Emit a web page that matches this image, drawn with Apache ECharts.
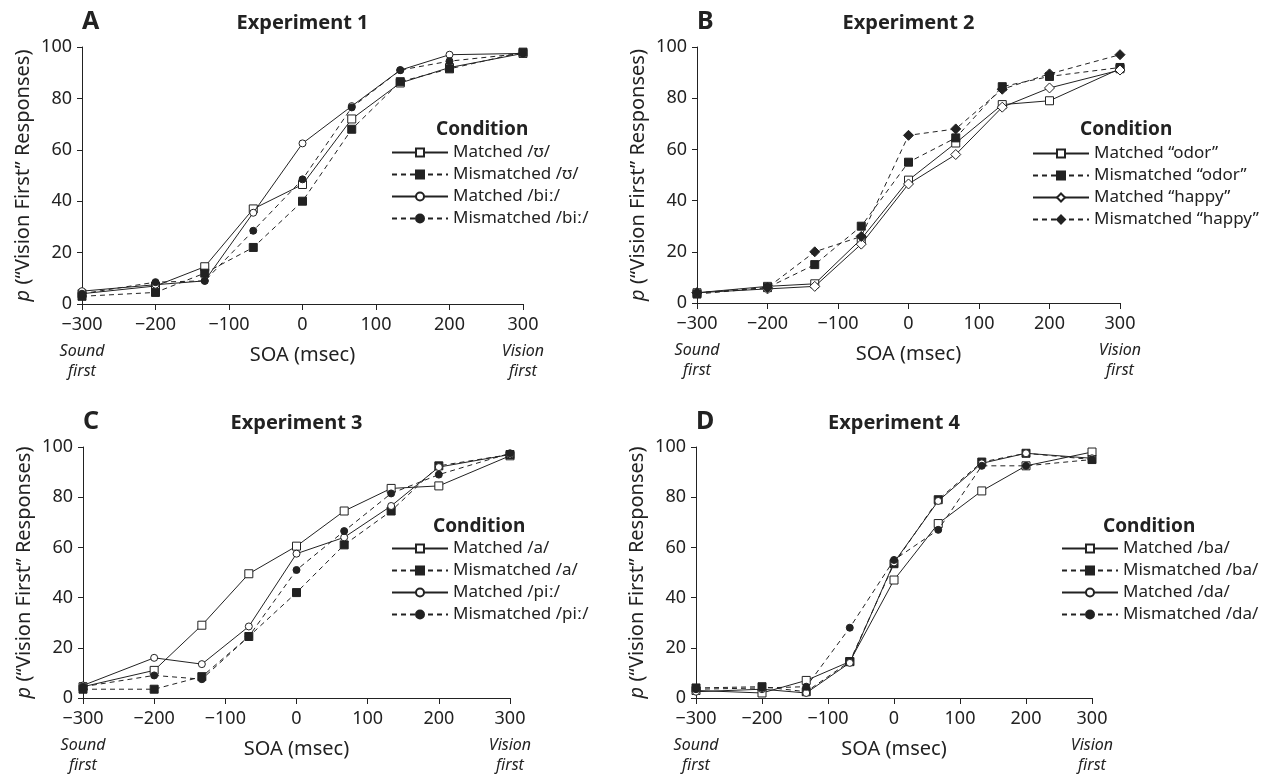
<!DOCTYPE html>
<html>
<head>
<meta charset="utf-8">
<title>Vision first responses by SOA</title>
<script src="https://cdn.jsdelivr.net/npm/echarts@6/dist/echarts.min.js"></script>
<style>
  html, body { margin: 0; padding: 0; background: #fff; }
  #main { width: 1262px; height: 780px; }
</style>
</head>
<body>
<div id="main"></div>
<script>
// SOA levels (msec)
var soa = [-300, -200, -133, -67, 0, 67, 133, 200, 300];

var xTickValues = [-300, -200, -100, 0, 100, 200, 300];
var xTickLabels = ['−300', '−200', '−100', '0', '100', '200', '300'];
var xLeftNote = ['Sound', 'first'];
var xRightNote = ['Vision', 'first'];

var panelLetters = ['A', 'B', 'C', 'D'];
var panelTitles = ['Experiment 1', 'Experiment 2', 'Experiment 3', 'Experiment 4'];

// Experiment 1
var exp1Names = ['Matched /ʊ/', 'Mismatched /ʊ/', 'Matched /biː/', 'Mismatched /biː/'];
var exp1MatchedU = [4, 7, 14.5, 37, 46.5, 72, 86, 92, 97.5];
var exp1MismatchedU = [3, 4.5, 12, 22, 40, 68, 86.5, 91.5, 98];
var exp1MatchedBi = [5, 7.5, 9, 35.5, 62.5, 77, 91, 97, 97.5];
var exp1MismatchedBi = [4, 8.5, 9, 28.5, 48.5, 76.5, 91, 94.5, 97.5];

// Experiment 2
var exp2Names = ['Matched “odor”', 'Mismatched “odor”', 'Matched “happy”', 'Mismatched “happy”'];
var exp2MatchedOdor = [4, 6.5, 7.5, 25, 48, 62.5, 77.5, 79, 91.5];
var exp2MismatchedOdor = [3.5, 6, 15, 30, 55, 64.5, 84.5, 88.5, 92];
var exp2MatchedHappy = [4, 5.5, 6.5, 23, 46.5, 58, 76.5, 84, 91];
var exp2MismatchedHappy = [4, 6, 20, 26, 65.5, 68, 83.5, 89.5, 97];

// Experiment 3
var exp3Names = ['Matched /a/', 'Mismatched /a/', 'Matched /piː/', 'Mismatched /piː/'];
var exp3MatchedA = [4.5, 11, 29, 49.5, 60.5, 74.5, 83.5, 84.5, 96.5];
var exp3MismatchedA = [3.5, 3.5, 8.5, 24.5, 42, 61, 74.5, 92.5, 97];
var exp3MatchedPi = [5, 16, 13.5, 28.5, 57.5, 64, 76.5, 92, 97];
var exp3MismatchedPi = [4.5, 9, 7.5, 24.5, 51, 66.5, 81.5, 89, 97.5];

// Experiment 4
var exp4Names = ['Matched /ba/', 'Mismatched /ba/', 'Matched /da/', 'Mismatched /da/'];
var exp4MatchedBa = [3, 2, 7, 14.5, 47, 69.5, 82.5, 92.5, 98];
var exp4MismatchedBa = [4, 4.5, 2.5, 14.5, 53.5, 79, 94, 97.5, 95];
var exp4MatchedDa = [2.5, 3.5, 2, 14, 54, 78.5, 93.5, 97.5, 95.5];
var exp4MismatchedDa = [3.5, 4, 4.5, 28, 55, 67, 92.5, 92.5, 95];

var panelNames = [exp1Names, exp2Names, exp3Names, exp4Names];
var panelValues = [
  [exp1MatchedU, exp1MismatchedU, exp1MatchedBi, exp1MismatchedBi],
  [exp2MatchedOdor, exp2MismatchedOdor, exp2MatchedHappy, exp2MismatchedHappy],
  [exp3MatchedA, exp3MismatchedA, exp3MatchedPi, exp3MismatchedPi],
  [exp4MatchedBa, exp4MismatchedBa, exp4MatchedDa, exp4MismatchedDa]
];
var panelSymbols = [
  ['rect', 'rect', 'circle', 'circle'],
  ['rect', 'rect', 'diamond', 'diamond'],
  ['rect', 'rect', 'circle', 'circle'],
  ['rect', 'rect', 'circle', 'circle']
];

var ink = '#222';
var font = '"Noto Sans", "DejaVu Sans", sans-serif';

// plot boxes and legend spots
var layouts = [
  { left: 82, top: 47, width: 441, height: 257, legendLeft: 391, legendTop: 144, condX: 436, condY: 130 },
  { left: 697, top: 47, width: 423, height: 256, legendLeft: 1032, legendTop: 145, condX: 1080, condY: 130 },
  { left: 83, top: 447, width: 427, height: 251, legendLeft: 391, legendTop: 540, condX: 433, condY: 527 },
  { left: 696, top: 447, width: 396, height: 251, legendLeft: 1061, legendTop: 540, condX: 1103, condY: 527 }
];

function xLabel(v) {
  var k = xTickValues.indexOf(v);
  var s = k >= 0 ? xTickLabels[k] : String(v);
  if (v === -300) return '{n|' + s + '}\n{it|' + xLeftNote[0] + '}\n{it|' + xLeftNote[1] + '}';
  if (v === 300) return '{n|' + s + '}\n{it|' + xRightNote[0] + '}\n{it|' + xRightNote[1] + '}';
  return '{n|' + s + '}';
}

var grids = [], xAxes = [], yAxes = [], legends = [], series = [], graphics = [];

layouts.forEach(function (L, i) {
  grids.push({ left: L.left, top: L.top, width: L.width, height: L.height, containLabel: false });

  xAxes.push({
    gridIndex: i, type: 'value', min: -300, max: 300, interval: 100,
    axisLine: { show: true, onZero: false, lineStyle: { color: ink, width: 1 } },
    axisTick: { show: true, length: 6, lineStyle: { color: ink, width: 1 } },
    splitLine: { show: false },
    axisLabel: {
      margin: 5, color: ink, fontFamily: font, formatter: xLabel,
      rich: {
        n: { fontSize: 18, lineHeight: 32, color: ink, fontFamily: font },
        it: { fontSize: 16, lineHeight: 20, fontStyle: 'italic', color: ink, fontFamily: font }
      }
    },
    name: 'SOA (msec)', nameLocation: 'middle', nameGap: 41, nameMoveOverlap: false,
    nameTextStyle: { fontSize: 20, color: ink, fontFamily: font }
  });

  yAxes.push({
    gridIndex: i, type: 'value', min: 0, max: 100, interval: 20,
    axisLine: { show: true, onZero: false, lineStyle: { color: ink, width: 1 } },
    axisTick: { show: true, length: 5, lineStyle: { color: ink, width: 1 } },
    splitLine: { show: false },
    axisLabel: { margin: 10, fontSize: 18, color: ink, fontFamily: font },
    name: '{i|p} (“Vision First” Responses)', nameLocation: 'middle', nameGap: 49, nameRotate: 90,
    nameMoveOverlap: false,
    nameTextStyle: {
      fontSize: 20, color: ink, fontFamily: font,
      rich: { i: { fontStyle: 'italic', fontSize: 20, color: ink, fontFamily: font } }
    }
  });

  legends.push({
    orient: 'vertical', left: L.legendLeft, top: L.legendTop, padding: 0,
    itemWidth: 56, itemHeight: 10, itemGap: 5, selectedMode: false,
    data: panelNames[i],
    textStyle: { fontSize: 17, color: ink, fontFamily: font }
  });

  panelValues[i].forEach(function (vals, j) {
    var filled = j % 2 === 1;
    var sym = panelSymbols[i][j];
    series.push({
      name: panelNames[i][j], type: 'line', xAxisIndex: i, yAxisIndex: i,
      data: soa.map(function (x, k) { return [x, vals[k]]; }),
      symbol: sym,
      symbolSize: sym === 'diamond' ? 10 : (sym === 'circle' ? 7 : 8),
      lineStyle: { color: ink, width: 1, type: filled ? [5, 4] : 'solid' },
      itemStyle: { color: filled ? ink : '#fff', borderColor: ink, borderWidth: 1 },
      emphasis: { disabled: true },
      z: 2 + j
    });
  });

  var cx = L.left + L.width / 2;
  graphics.push({
    type: 'text', x: L.left, y: L.top - 25,
    style: { text: panelLetters[i], fill: ink, font: 'bold 25px ' + font,
      align: 'left', verticalAlign: 'middle', textAlign: 'left', textVerticalAlign: 'middle' }
  });
  graphics.push({
    type: 'text', x: cx, y: L.top - 24,
    style: { text: panelTitles[i], fill: ink, font: 'bold 20px ' + font,
      align: 'center', verticalAlign: 'middle', textAlign: 'center', textVerticalAlign: 'middle' }
  });
  graphics.push({
    type: 'text', x: L.condX, y: L.condY,
    style: { text: 'Condition', fill: ink, font: 'bold 19px ' + font,
      align: 'left', verticalAlign: 'middle', textAlign: 'left', textVerticalAlign: 'middle' }
  });
});

var chart = echarts.init(document.getElementById('main'), null, { renderer: 'canvas' });
chart.setOption({
  animation: false,
  backgroundColor: '#fff',
  grid: grids,
  xAxis: xAxes,
  yAxis: yAxes,
  legend: legends,
  series: series,
  graphic: graphics
});
</script>
</body>
</html>
